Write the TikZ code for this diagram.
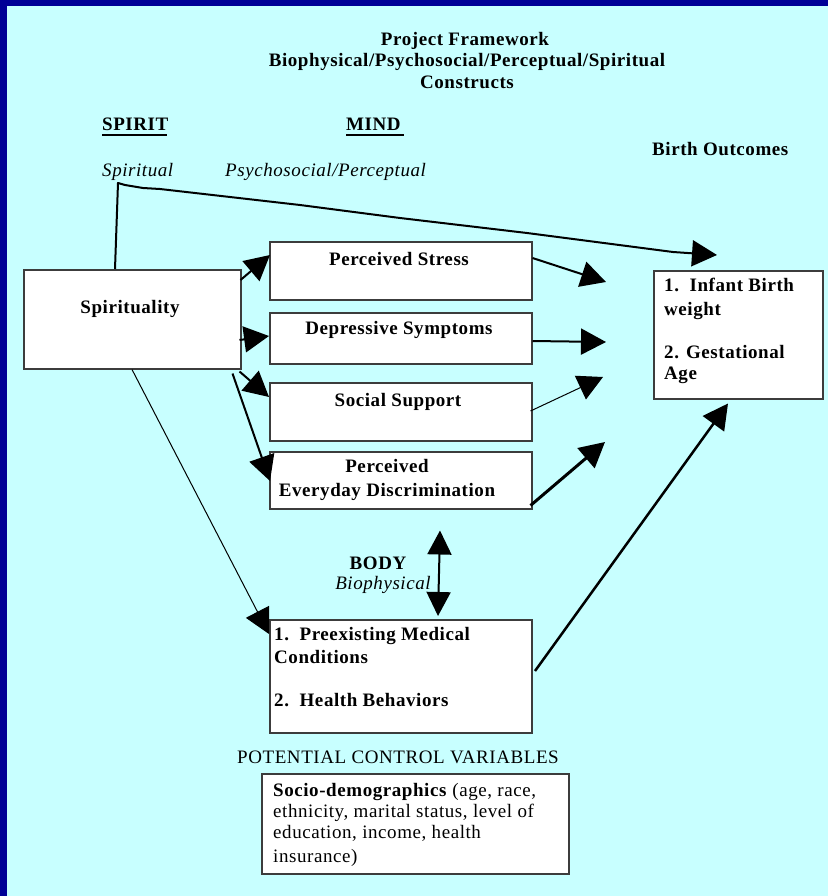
\documentclass[tikz,border=0pt]{standalone}
\usepackage{fontspec}
\setmainfont{Liberation Serif}[LetterSpace=3]
\usetikzlibrary{arrows.meta,calc}
\definecolor{bgc}{RGB}{200,255,255}
\definecolor{framec}{RGB}{0,0,150}
\definecolor{boxline}{RGB}{60,60,60}
\begin{document}
\begin{tikzpicture}[x=1pt,y=-1pt,
  box/.style={draw=boxline, line width=1.5pt, fill=white, inner sep=0pt, anchor=north west},
  txt/.style={inner sep=0pt, anchor=base, font=\fontsize{19}{22}\selectfont\bfseries},
  txtl/.style={txt, anchor=base west},
  itx/.style={inner sep=0pt, anchor=base west, font=\fontsize{19}{22}\selectfont\itshape},
  rtx/.style={inner sep=0pt, anchor=base west, font=\fontsize{19}{22}\selectfont},
  arr/.style={-{Triangle[length=25pt 0 0,width=26pt 0 0]}, line width=2pt},
  darr/.style={{Triangle[length=24pt 0 0,width=24pt 0 0]}-{Triangle[length=24pt 0 0,width=24pt 0 0]}, line width=2pt}
]
\useasboundingbox (0,0) rectangle (828,896);
\fill[framec] (0,0) rectangle (828,896);
\fill[bgc] (7,6) rectangle (828,896);

% titles
\node[txt] (t1) at (465,46) {Project Framework};
\node[txt] (t2) at (467,67) {Biophysical/Psychosocial/Perceptual/Spiritual};
\node[txt] (t3) at (467,89) {Constructs};
\node[txtl] (spirit) at (102,131) {SPIRIT};
\node[txtl] (mind) at (346,131) {MIND};
\draw[line width=2.5pt] (spirit.base west)++(0,4) -- ++(65,0);
\draw[line width=2.5pt] (mind.base west)++(0,4) -- ++(58,0);
\node[txtl] (bo) at (652,156) {Birth Outcomes};
\node[itx] (spl) at (102,177) {Spiritual};
\node[itx] (psl) at (225,177) {Psychosocial/Perceptual};

% boxes
\node[box, minimum width=217pt, minimum height=99pt] (sp) at (23,269) {};
\node[box, minimum width=262pt, minimum height=58pt] (ps) at (269,241) {};
\node[box, minimum width=262pt, minimum height=51pt] (ds) at (269,312) {};
\node[box, minimum width=262pt, minimum height=58pt] (ss) at (269,382) {};
\node[box, minimum width=262pt, minimum height=57pt] (pd) at (269,451) {};
\node[box, minimum width=262pt, minimum height=113pt] (pm) at (269,619) {};
\node[box, minimum width=169pt, minimum height=128pt] (ib) at (653,270) {};
\node[box, minimum width=307pt, minimum height=100pt] (sd) at (261,773) {};

% box texts
\node[txt] (spt) at (130,313) {Spirituality};
\node[txt] (pst) at (399,265) {Perceived Stress};
\node[txt] (dst) at (399,334) {Depressive Symptoms};
\node[txt] (sst) at (398,406) {Social Support};
\node[txt] (pdt1) at (387,472) {Perceived};
\node[txt] (pdt2) at (387,496) {Everyday Discrimination};
\node[txtl] (pmt1) at (274,640) {1.\ \ Preexisting Medical};
\node[txtl] (pmt2) at (274,663) {Conditions};
\node[txtl] (pmt3) at (274,706) {2.\ \ Health Behaviors};
\node[txtl] (ibt1) at (664,291) {1.\ \ Infant Birth};
\node[txtl] (ibt2) at (664,315) {weight};
\node[txtl] (ibt3) at (664,358) {2. Gestational};
\node[txtl] (ibt4) at (664,379) {Age};
\node[txt] (body) at (378,569) {BODY};
\node[itx, anchor=base] (bioph) at (383,589) {Biophysical};
\node[rtx, anchor=base] (pcv) at (398,763) {POTENTIAL CONTROL VARIABLES};
\node[rtx] (sdt1) at (273,796) {\textbf{Socio-demographics} (age, race,};
\node[rtx] (sdt2) at (273,817) {ethnicity, marital status, level of};
\node[rtx] (sdt3) at (273,838) {education, income, health};
\node[rtx] (sdt4) at (273,862) {insurance)};

% free ends
\coordinate (e1) at (606,282);
\coordinate (e2) at (606,342);
\coordinate (e3) at (603,377);
\coordinate (e4) at (605,442);
\coordinate (pmo) at (535,671);

% arrows from spirituality
\draw[arr] ($(sp.north east)+(-1,11)$) -- ($(ps.north west)+(1,14)$);
\draw[arr] ($(sp.north east)+(-2,71)$) -- ($(ds.north west)+(0,24)$);
\draw[arr] ($(sp.south east)+(-2,2)$) -- ($(ss.north west)+(0,15)$);
\draw[arr] ($(sp.south east)+(-9,4)$) -- ($(pd.north west)+(1,30)$);
\draw[arr, line width=1pt] ($(sp.south west)+(109,0)$) -- ($(pm.north west)+(0,15)$);
\draw[arr, line join=round] ($(sp.north west)+(92,0)$) -- (118,183) -- (125,185) -- (143,188) -- (160,189)
  -- (300,205) -- (400,218) -- (527,233) -- (673,252) -- ($(ib.north west)+(64,-15)$);

% arrows to outcomes
\draw[arr] ($(ps.north east)+(0,17)$) -- (e1);
\draw[arr] ($(ds.north east)+(0,29)$) -- (e2);
\draw[arr, line width=1pt] ($(ss.north east)+(-2,29)$) -- (e3);
\draw[arr, line width=3pt] ($(pd.south east)+(-2,-4)$) -- (e4);
\draw[arr, line width=2.5pt] (pmo) -- ($(ib.south west)+(75,4)$);

% body double arrow
\draw[darr] ($(pd.south west)+(171,21)$) -- ($(pm.north west)+(169,-3)$);
\end{tikzpicture}
\end{document}
